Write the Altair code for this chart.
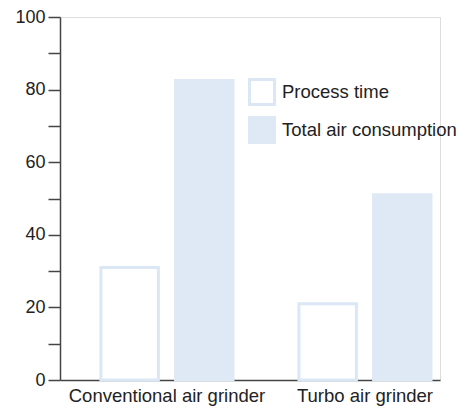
import altair as alt
import pandas as pd

categories = ["Conventional air grinder", "Turbo air grinder"]
series = ["Process time", "Total air consumption"]
process_time = [31, 21]
total_air = [82.5, 51]

rows = []
for i, c in enumerate(categories):
    rows.append({"category": c, "series": series[0], "value": process_time[i]})
    rows.append({"category": c, "series": series[1], "value": total_air[i]})
df = pd.DataFrame(rows)

FONT = "Liberation Sans"
BLUE = "#dfe9f6"
EDGE = "#dce7f5"

legend = alt.Legend(
    orient="none", legendX=188, legendY=61, symbolType="square", symbolSize=625,
    symbolStrokeWidth=3, labelFontSize=18.5, labelFont=FONT, labelColor="#222",
    labelOffset=6, rowPadding=0, padding=0, labelLimit=0, title=None,
)

chart = alt.Chart(df).mark_bar(strokeWidth=3).encode(
    x=alt.X("category:N", sort=categories, title=None,
            scale=alt.Scale(paddingInner=0.333, paddingOuter=0.126, align=0.82),
            axis=alt.Axis(labelAngle=0, ticks=False, labelPadding=6, labelFontSize=18.5,
                          labelLimit=0,
                          domainColor="#444", domainWidth=1.5, labelColor="#222", labelFont=FONT)),
    xOffset=alt.XOffset("series:N", sort=series,
                        scale=alt.Scale(paddingInner=0.23, paddingOuter=0)),
    y=alt.Y("value:Q", title=None,
            scale=alt.Scale(domain=[0, 100], nice=False),
            axis=alt.Axis(values=list(range(0, 101, 10)), grid=False, tickSize=12,
                          labelExpr="datum.value % 20 == 0 ? datum.label : ''",
                          labelFontSize=18, labelPadding=3, labelColor="#222", labelFont=FONT,
                          domainColor="#444", domainWidth=1.5, tickColor="#444", tickWidth=1.5)),
    fill=alt.Fill("series:N", sort=series, legend=legend,
                  scale=alt.Scale(domain=series, range=["white", BLUE])),
    stroke=alt.Stroke("series:N", sort=series, legend=legend,
                      scale=alt.Scale(domain=series, range=[EDGE, BLUE])),
).properties(
    width=380, height=363,
    autosize=alt.AutoSizeParams(type="none"),
    padding={"left": 52, "top": 9, "right": 20, "bottom": 26},
).configure_view(strokeWidth=0).configure(background="white")

chart.save("out.html", embed_options={"renderer": "svg", "actions": False})
